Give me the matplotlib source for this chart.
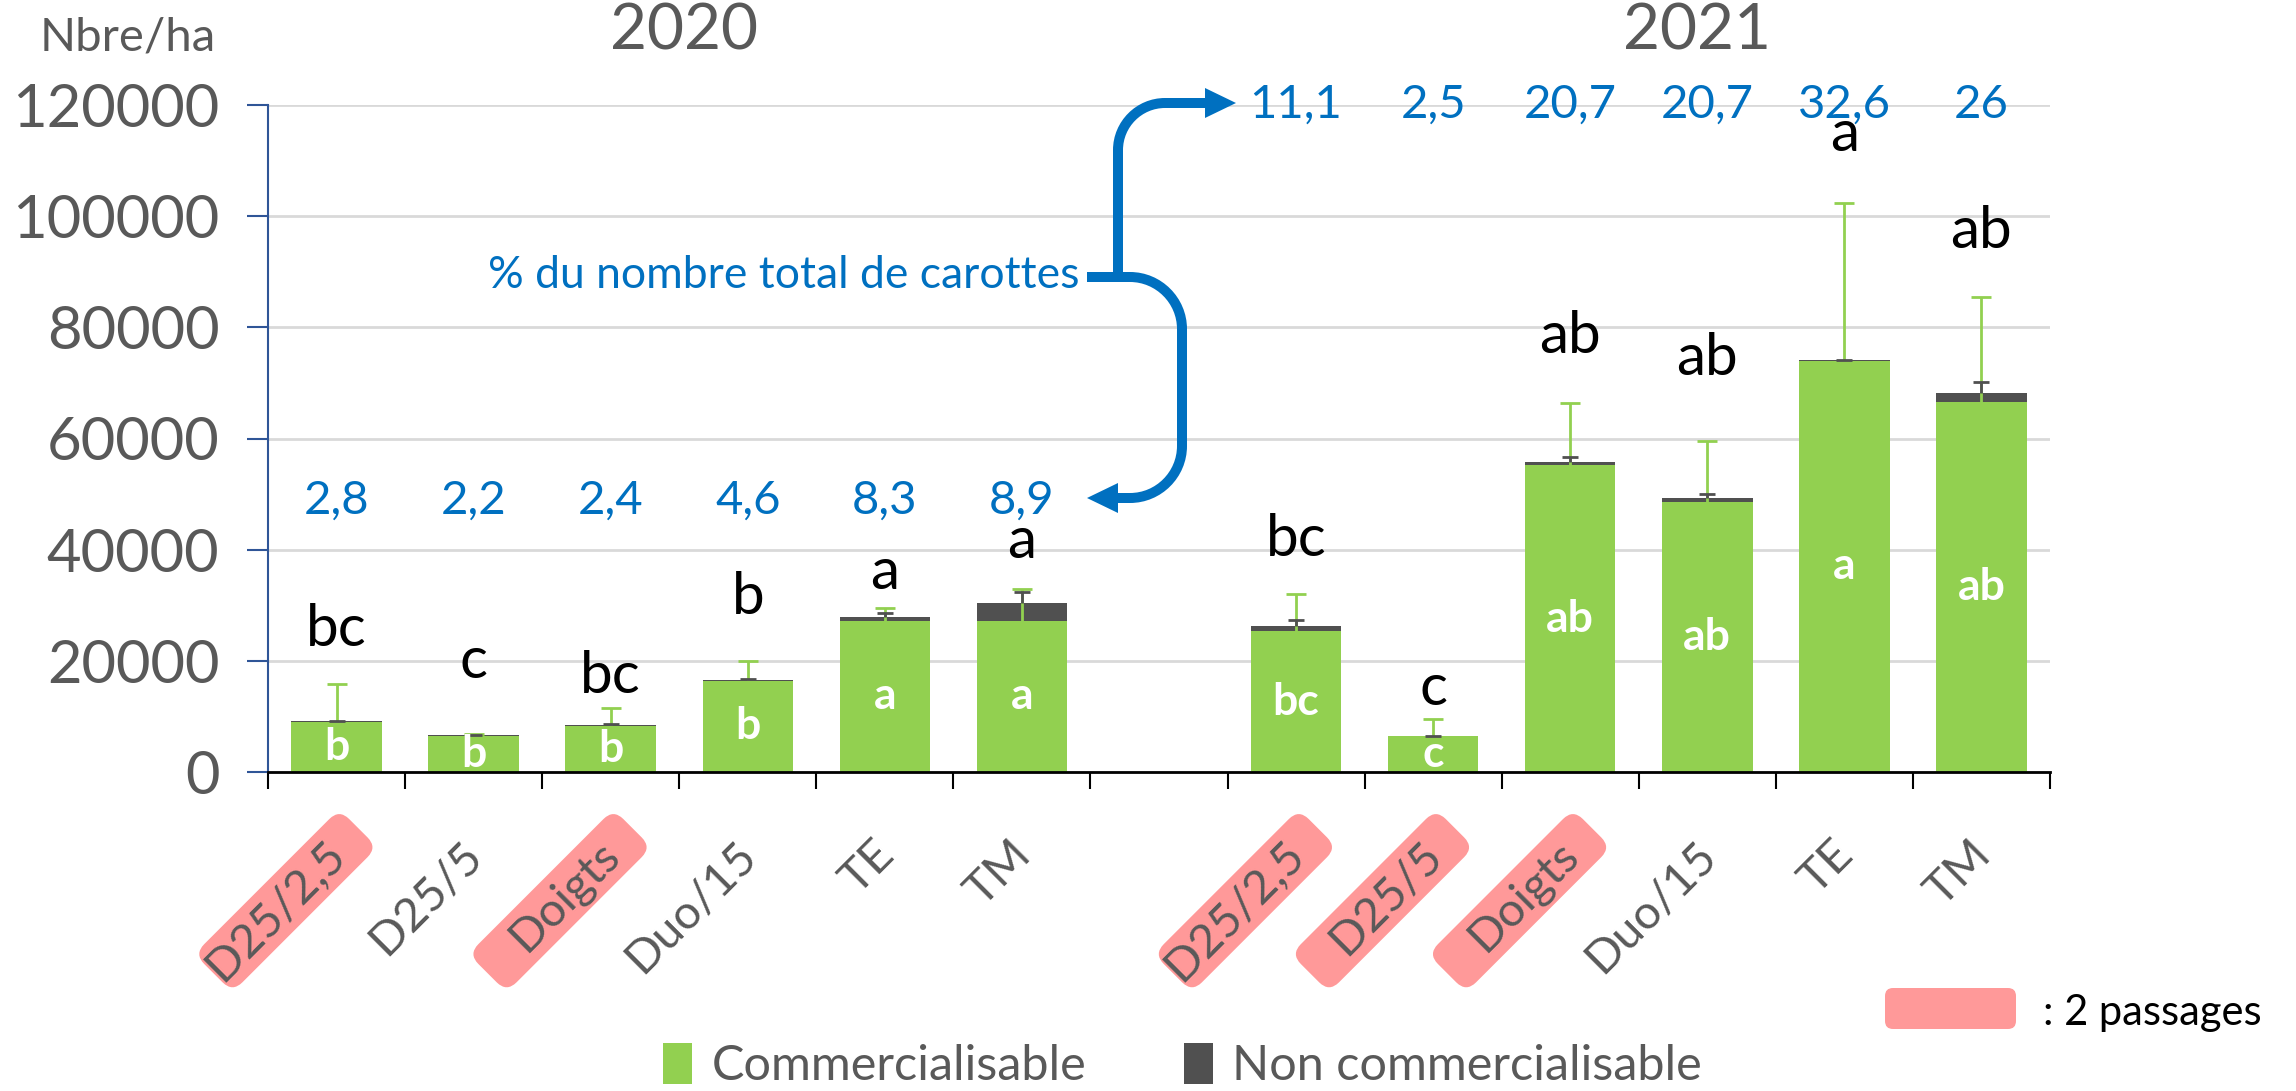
import numpy as np
import matplotlib
matplotlib.use('Agg')
import matplotlib.pyplot as plt
from matplotlib.path import Path
from matplotlib.patches import PathPatch, Polygon, FancyBboxPatch, Patch
from matplotlib.transforms import Affine2D, IdentityTransform

plt.rcParams['font.family'] = ['Lato', 'DejaVu Sans']

# data
methods = ['D25/2,5', 'D25/5', 'Doigts', 'Duo/15', 'TE', 'TM']
two_passes_2020 = ['D25/2,5', 'Doigts']
two_passes_2021 = ['D25/2,5', 'D25/5', 'Doigts']

comm_2020 = [9000, 6500, 8300, 16400, 27200, 27200]
non_comm_2020 = [150, 100, 150, 150, 700, 3200]
comm_err_2020 = [6850, 300, 3300, 3500, 2300, 5700]
non_comm_err_2020 = [100, 100, 150, 150, 700, 1900]

comm_2021 = [25300, 6400, 55200, 48600, 74000, 66600]
non_comm_2021 = [900, 50, 600, 750, 100, 1600]
comm_err_2021 = [6700, 3100, 11100, 11000, 28400, 18900]
non_comm_err_2021 = [1100, 50, 900, 750, 50, 1900]

pct_2020 = ['2,8', '2,2', '2,4', '4,6', '8,3', '8,9']
pct_2021 = ['11,1', '2,5', '20,7', '20,7', '32,6', '26']

# letters on the total (above) and on the commercial part (inside)
letters_2020 = ['bc', 'c', 'bc', 'b', 'a', 'a']
letters_2021 = ['bc', 'c', 'ab', 'ab', 'a', 'ab']
inner_2020 = ['b', 'b', 'b', 'b', 'a', 'a']
inner_2021 = ['bc', 'c', 'ab', 'ab', 'a', 'ab']
# heights where the significance letters sit
letter_pos_2020 = [25600, 19800, 17100, 31400, 35900, 41400]
letter_pos_2021 = [41900, 15000, 78300, 74400, 114700, 97300]

GREEN = '#92D050'
DARK = '#505050'
BLUE = '#0070C0'
GREY = '#595959'
PINK = '#FF9999'
W, H = 2296, 1091

fig = plt.figure(figsize=(W / 100, H / 100), dpi=100)
ax = fig.add_axes([268 / W, 1 - 772 / H, (2050 - 268) / W, (772 - 105) / H])

x20 = np.arange(6)
x21 = np.arange(7, 13)
x_all = np.concatenate([x20, x21])
comm = np.array(comm_2020 + comm_2021)
non_comm = np.array(non_comm_2020 + non_comm_2021)
comm_err = np.array(comm_err_2020 + comm_err_2021)
non_comm_err = np.array(non_comm_err_2020 + non_comm_err_2021)
total = comm + non_comm

bw = 0.66
ax.bar(x_all, comm, bw, color=GREEN, zorder=2)
ax.bar(x_all, non_comm, bw, bottom=comm, color=DARK, zorder=2)

# plus-only error bars, like excel
ax.vlines(x_all, comm, comm + comm_err, color=GREEN, lw=2, zorder=3)
ax.plot(x_all, comm + comm_err, ls='none', marker='_', ms=14, mew=2,
        color=GREEN, zorder=3)
ax.vlines(x_all, total, total + non_comm_err, color=DARK, lw=2, zorder=4)
ax.plot(x_all, total + non_comm_err, ls='none', marker='_', ms=12, mew=2,
        color=DARK, zorder=4)

ax.set_xlim(-0.5, 12.5)
ax.set_ylim(0, 120000)
ax.set_xticks(np.arange(-0.5, 13, 1))
ax.set_xticklabels([])
ax.set_yticks(np.arange(0, 120001, 20000))
ax.set_yticklabels([str(v) for v in range(0, 120001, 20000)])
ax.tick_params(axis='x', length=12, width=1.5, color='black')
ax.tick_params(axis='y', length=15, width=1.5, color='#2F5597',
               labelsize=43, labelcolor=GREY, pad=20)
ax.yaxis.grid(True, color='#D9D9D9', lw=2)
ax.set_axisbelow(True)
for s in ['top', 'right']:
    ax.spines[s].set_visible(False)
ax.spines['left'].set_color('#2F5597')
ax.spines['left'].set_linewidth(1.5)
ax.spines['bottom'].set_color('black')
ax.spines['bottom'].set_linewidth(2)
ax.spines['bottom'].set_zorder(5)

# letters inside and above bars
letters = letters_2020 + letters_2021
inner = inner_2020 + inner_2021
letter_pos = letter_pos_2020 + letter_pos_2021
for xi, c, lt, il, lp in zip(x_all, comm, letters, inner, letter_pos):
    ax.text(xi, c / 2, il, ha='center', va='center', color='white',
            fontsize=32, fontweight='bold', zorder=6)
    ax.text(xi, lp, lt, ha='center', va='center', color='black', fontsize=42)

for xi, p in zip(x20, pct_2020):
    ax.text(xi, 48800, p, ha='center', va='center', color=BLUE, fontsize=34)
for xi, p in zip(x21, pct_2021):
    ax.text(xi, 120000, p, ha='center', va='center', color=BLUE, fontsize=34)

# rotated category labels, pink boxes for the 2-pass treatments
ang = 45
names = [(m, m in two_passes_2020) for m in methods] + \
        [(m, m in two_passes_2021) for m in methods]
for xi, (name, pink) in zip(x_all, names):
    anchor = ax.transData.transform((xi, 0)) + np.array([2, -76])
    if pink:
        box = FancyBboxPatch((-177, -27), 205, 54,
                             boxstyle='round,pad=0,rounding_size=14',
                             fc=PINK, ec='none',
                             transform=Affine2D().rotate_deg(ang).translate(*anchor))
        fig.add_artist(box)
    fig.text(anchor[0], anchor[1], name, transform=IdentityTransform(),
             rotation=ang, rotation_mode='anchor', ha='right', va='center',
             fontsize=34, color=GREY)

# titles
fig.text(0.298, 0.971, '2020', ha='center', va='center', fontsize=46, color=GREY)
fig.text(0.739, 0.971, '2021', ha='center', va='center', fontsize=46, color=GREY)
fig.text(0.0555, 0.966, 'Nbre/ha', ha='center', va='center', fontsize=34, color=GREY)

# blue bracket with arrows (image pixel coords, y down)
img = Affine2D().scale(1, -1).translate(0, H)
k = 0.55
r1, r2 = 47, 52
up = Path([(1118, 282), (1118, 150),
           (1118, 150 - r1 * k), (1165 - r1 * k, 103), (1165, 103),
           (1210, 103)],
          [Path.MOVETO, Path.LINETO, Path.CURVE4, Path.CURVE4, Path.CURVE4,
           Path.LINETO])
down = Path([(1087, 277), (1130, 277),
             (1130 + r2 * k, 277), (1182, 329 - r2 * k), (1182, 329),
             (1182, 446),
             (1182, 446 + r2 * k), (1130 + r2 * k, 498), (1130, 498),
             (1115, 498)],
            [Path.MOVETO, Path.LINETO, Path.CURVE4, Path.CURVE4, Path.CURVE4,
             Path.LINETO, Path.CURVE4, Path.CURVE4, Path.CURVE4, Path.LINETO])
for pth in [up, down]:
    fig.add_artist(PathPatch(pth, fc='none', ec=BLUE, lw=7.2,
                             capstyle='butt', joinstyle='round', transform=img))
fig.add_artist(Polygon([(1205, 88), (1236, 103), (1205, 118)], closed=True,
                       fc=BLUE, ec='none', transform=img))
fig.add_artist(Polygon([(1118, 483), (1087, 498), (1118, 513)], closed=True,
                       fc=BLUE, ec='none', transform=img))
fig.text(1080, H - 275, '% du nombre total de carottes', transform=IdentityTransform(),
         ha='right', va='center', fontsize=32, color=BLUE)

# legends
fig.legend(handles=[Patch(fc=GREEN), Patch(fc=DARK)],
           labels=['Commercialisable', 'Non commercialisable'],
           loc='center', bbox_to_anchor=(0.515, 0.023), ncol=2, frameon=False,
           fontsize=35, handlelength=0.6, handleheight=0.9, handletextpad=0.4,
           columnspacing=2.0, labelcolor=GREY)
fig.add_artist(FancyBboxPatch((1885, 62), 131, 41,
                              boxstyle='round,pad=0,rounding_size=8',
                              fc=PINK, ec='none', transform=IdentityTransform()))
fig.text(2043, 78, ': 2 passages', transform=IdentityTransform(),
         ha='left', va='center', fontsize=30, color='black')

fig.savefig('out.png', dpi=100)
